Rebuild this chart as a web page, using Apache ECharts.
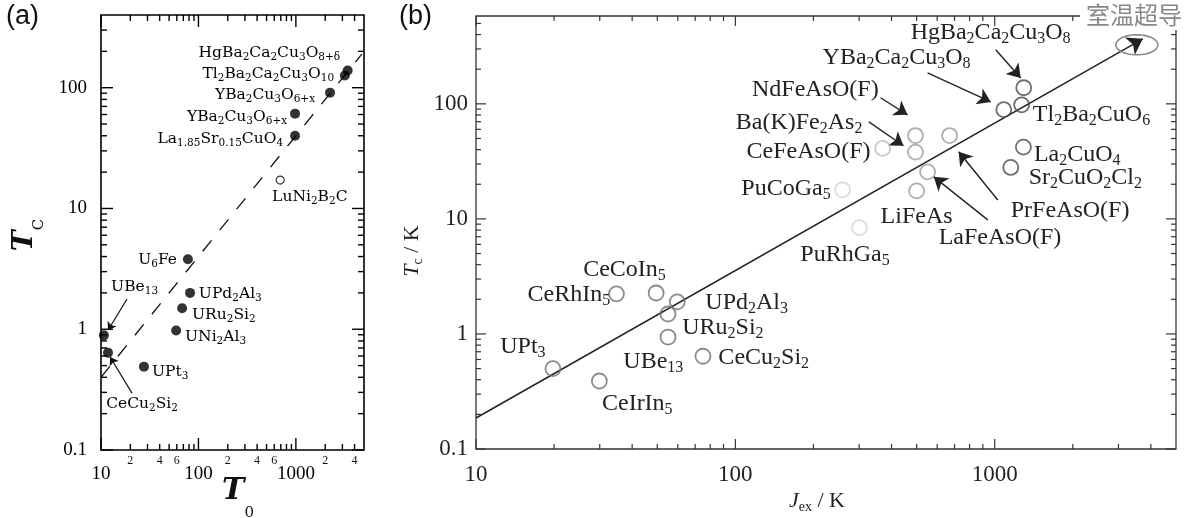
<!DOCTYPE html>
<html><head><meta charset="utf-8">
<script src="https://cdn.jsdelivr.net/npm/echarts@6/dist/echarts.min.js"></script>
<style>html,body{margin:0;padding:0;background:#fff}#c{width:1190px;height:518px}</style>
</head><body><div id="c"></div>
<script>
// ================= DATA: panel (a) =================
const aSolidNames = ['HgBa2Ca2Cu3O8+δ','Tl2Ba2Ca2Cu3O10','YBa2Cu3O6+x','YBa2Cu3O6+x','La1.85Sr0.15CuO4','U6Fe','UPd2Al3','URu2Si2','UNi2Al3','UPt3','UBe13','CeCu2Si2'];
const aSolidT0 = [3400, 3180, 2240, 980, 980, 78, 82, 68, 59, 27.6, 10.7, 11.8];
const aSolidTc = [139, 126, 91, 61, 40, 3.8, 2.0, 1.49, 0.975, 0.49, 0.89, 0.64];
const aOpenNames = ['LuNi2B2C'];
const aOpenT0 = [690];
const aOpenTc = [17.2];
const aFitT0 = [10, 4750];
const aFitTc = [0.4, 190];
const aXMajorTicks = [10, 100, 1000];
const aXMinorTicks = [20,30,40,50,60,70,80,90,200,300,400,500,600,700,800,900,2000,3000,4000];
const aXMinorLabelValues = [20, 40, 60, 200, 400, 600, 2000, 4000];
const aXMinorLabelTexts = ['2','4','6','2','4','6','2','4'];
const aYMajorTicks = [0.1, 1, 10, 100];
const aYMinorTicks = [0.2,0.3,0.4,0.5,0.6,0.7,0.8,0.9,2,3,4,5,6,7,8,9,20,30,40,50,60,70,80,90,200,300];
const aTickLabels = {'10':'10','100':'100','1000':'1000','0.1':'0.1','1':'1'};

// ================= DATA: panel (b) =================
const bCuprateNames = ['HgBa2Ca2Cu3O8','Tl2Ba2CuO6','YBa2Ca2Cu3O8','La2CuO4','Sr2CuO2Cl2'];
const bCuprateJex = [1294, 1270, 1084, 1290, 1153];
const bCuprateTc = [138, 98, 89, 42, 28];
const bIronNames = ['NdFeAsO(F)','PrFeAsO(F)','Ba(K)Fe2As2','LaFeAsO(F)','LiFeAs'];
const bIronJex = [495, 670, 495, 551, 500];
const bIronTc = [53, 53, 38, 25.6, 17.5];
const bCeFeNames = ['CeFeAsO(F)'];
const bCeFeJex = [370];
const bCeFeTc = [41];
const bPuNames = ['PuCoGa5','PuRhGa5'];
const bPuJex = [259, 301];
const bPuTc = [17.9, 8.4];
const bHeavyNames = ['CeCoIn5','CeRhIn5','UPd2Al3','URu2Si2','UBe13','CeCu2Si2','UPt3','CeIrIn5'];
const bHeavyJex = [49.5, 34.8, 59.7, 55, 55, 75, 19.8, 29.9];
const bHeavyTc = [2.27, 2.23, 1.9, 1.49, 0.94, 0.64, 0.50, 0.39];
const bFitJex = [10, 3725];
const bFitTc = [0.186, 367];
const bRoomJex = [3532];
const bRoomTc = [326];
const bRoomLabel = '室温超导';
const bXMajorTicks = [10, 100, 1000];
const bXMinorTicks = [20,30,40,50,60,70,80,90,200,300,400,500,600,700,800,900,2000,3000,4000];
const bYMajorTicks = [0.1, 1, 10, 100];
const bYMinorTicks = [0.2,0.3,0.4,0.5,0.6,0.7,0.8,0.9,2,3,4,5,6,7,8,9,20,30,40,50,60,70,80,90,200,300,400,500];

// ================= LAYOUT (annotation anchors, in data space) =================
const aLabels = [
  {t:'HgBa_2Ca_2Cu_3O_{8+δ}', x:2845, y:193, a:'right'},
  {t:'Tl_2Ba_2Ca_2Cu_3O_{10}', x:2466, y:130, a:'right'},
  {t:'YBa_2Cu_3O_{6+x}', x:1574, y:86.9, a:'right'},
  {t:'YBa_2Cu_3O_{6+x}', x:813, y:57.1, a:'right'},
  {t:'La_{1.85}Sr_{0.15}CuO_4', x:739, y:37.5, a:'right'},
  {t:'LuNi_2B_2C', x:570, y:12.4, a:'left'},
  {t:'U_6Fe', x:60.3, y:3.74, a:'right'},
  {t:'UPd_2Al_3', x:101, y:1.95, a:'left'},
  {t:'URu_2Si_2', x:86, y:1.31, a:'left'},
  {t:'UNi_2Al_3', x:72.8, y:0.861, a:'left'},
  {t:'UPt_3', x:33.4, y:0.443, a:'left'},
  {t:'UBe_{13}', x:12.7, y:2.23, a:'left'},
  {t:'CeCu_2Si_2', x:11.3, y:0.240, a:'left'}
];
const aArrows = [
  [[18.5, 1.78], [11.8, 0.98]],
  [[20.8, 0.296], [12.4, 0.589]]
];
const bLabels = [
  {t:'HgBa_2Ca_2Cu_3O_8', x:474, y:414, a:'left'},
  {t:'YBa_2Ca_2Cu_3O_8', x:217, y:251, a:'left'},
  {t:'NdFeAsO(F)', x:357, y:132, a:'right'},
  {t:'Ba(K)Fe_2As_2', x:309, y:68.4, a:'right'},
  {t:'CeFeAsO(F)', x:332, y:38.3, a:'right'},
  {t:'PuCoGa_5', x:233, y:18.2, a:'right'},
  {t:'LiFeAs', x:363, y:10.4, a:'left'},
  {t:'LaFeAsO(F)', x:608, y:6.84, a:'left'},
  {t:'PrFeAsO(F)', x:1153, y:11.7, a:'left'},
  {t:'Tl_2Ba_2CuO_6', x:1403, y:80.2, a:'left'},
  {t:'La_2CuO_4', x:1416, y:36, a:'left'},
  {t:'Sr_2CuO_2Cl_2', x:1352, y:22.7, a:'left'},
  {t:'PuRhGa_5', x:178, y:4.86, a:'left'},
  {t:'CeCoIn_5', x:25.9, y:3.6, a:'left'},
  {t:'CeRhIn_5', x:32.9, y:2.18, a:'right'},
  {t:'UPd_2Al_3', x:76.6, y:1.86, a:'left'},
  {t:'URu_2Si_2', x:62.4, y:1.13, a:'left'},
  {t:'UBe_{13}', x:37, y:0.571, a:'left'},
  {t:'CeCu_2Si_2', x:86, y:0.618, a:'left'},
  {t:'UPt_3', x:12.4, y:0.771, a:'left'},
  {t:'CeIrIn_5', x:30.6, y:0.246, a:'left'}
];
const bArrows = [
  [[1009, 295], [1259, 168]],
  [[551, 186], [966, 104]],
  [[363, 113], [461, 80.2]],
  [[327, 69.7], [445, 43.2]],
  [[1028, 14.6], [726, 38.3]],
  [[940, 9.8], [582, 23.2]]
];

// ================= helpers =================
function richText(s) {
  let out = '', buf = '';
  for (let i = 0; i < s.length; i++) {
    const c = s[i];
    if (c === '_') {
      if (buf) { out += '{n|' + buf + '}'; buf = ''; }
      let sub = '';
      if (s[i + 1] === '{') { const j = s.indexOf('}', i + 2); sub = s.slice(i + 2, j); i = j; }
      else { let j = i + 1; while (j < s.length && /[0-9]/.test(s[j])) j++; sub = s.slice(i + 1, j); i = j - 1; }
      out += '{s|' + sub + '}';
    } else buf += c;
  }
  if (buf) out += '{n|' + buf + '}';
  return out;
}
function zip(xs, ys) { return xs.map((x, i) => [x, ys[i]]); }
function fmtTick(v) {
  const l = Math.log10(v);
  if (Math.abs(l - Math.round(l)) > 1e-6) return '';
  const key = String(+v.toPrecision(6));
  return aTickLabels[key] !== undefined ? aTickLabels[key] : key;
}

const richA = {
  n: {fontFamily: 'DejaVu Serif', fontSize: 15.5, lineHeight: 20, fill: '#000'},
  s: {fontFamily: 'DejaVu Serif', fontSize: 10.5, verticalAlign: 'bottom', fill: '#000'}
};
const richB = {
  n: {fontFamily: 'Liberation Serif', fontSize: 24, lineHeight: 27, fill: '#222'},
  s: {fontFamily: 'Liberation Serif', fontSize: 16, verticalAlign: 'bottom', fill: '#222'}
};

function labelSeries(layout, idx, rich) {
  return {
    type: 'custom', xAxisIndex: idx, yAxisIndex: idx, silent: true, z: 10,
    data: layout.map(l => [l.x, l.y]),
    renderItem: (params, api) => {
      const l = layout[params.dataIndex];
      const p = api.coord([api.value(0), api.value(1)]);
      return {type: 'text', x: p[0], y: p[1],
        style: {text: richText(l.t), rich: rich, align: l.a, verticalAlign: 'middle'}};
    }
  };
}

function buildTicks(xMaj, xMin, yMaj, yMin, minorLabelVals, minorLabelTexts) {
  const t = [];
  xMaj.forEach(v => t.push({axis: 'x', v, major: true}));
  xMin.forEach(v => {
    const k = minorLabelVals ? minorLabelVals.indexOf(v) : -1;
    t.push({axis: 'x', v, major: false, label: k >= 0 ? minorLabelTexts[k] : ''});
  });
  yMaj.forEach(v => t.push({axis: 'y', v, major: true}));
  yMin.forEach(v => t.push({axis: 'y', v, major: false}));
  return t;
}
function tickSeries(ticks, idx, xRef, yRef, majLen, minLen, color, lw) {
  return {
    type: 'custom', xAxisIndex: idx, yAxisIndex: idx, silent: true, z: 5,
    data: ticks.map(t => t.axis === 'x' ? [t.v, yRef] : [xRef, t.v]),
    renderItem: (params, api) => {
      const t = ticks[params.dataIndex];
      const cs = params.coordSys;
      const len = t.major ? majLen : minLen;
      const st = {stroke: color, lineWidth: lw};
      const ch = [];
      if (t.axis === 'x') {
        const x = api.coord([t.v, yRef])[0];
        const yb = cs.y + cs.height, yt = cs.y;
        ch.push({type: 'line', shape: {x1: x, y1: yb, x2: x, y2: yb - len}, style: st});
        ch.push({type: 'line', shape: {x1: x, y1: yt, x2: x, y2: yt + len}, style: st});
        if (t.label) ch.push({type: 'text', x: x, y: yb + 5,
          style: {text: t.label, font: '12px "Liberation Serif"', fill: '#111', align: 'center', verticalAlign: 'top'}});
      } else {
        const y = api.coord([xRef, t.v])[1];
        const xl = cs.x, xr = cs.x + cs.width;
        ch.push({type: 'line', shape: {x1: xl, y1: y, x2: xl + len, y2: y}, style: st});
        ch.push({type: 'line', shape: {x1: xr, y1: y, x2: xr - len, y2: y}, style: st});
      }
      return {type: 'group', children: ch};
    }
  };
}

const aTicks = buildTicks(aXMajorTicks, aXMinorTicks, aYMajorTicks, aYMinorTicks, aXMinorLabelValues, aXMinorLabelTexts);
const bTicks = buildTicks(bXMajorTicks, bXMinorTicks, bYMajorTicks, bYMinorTicks, null, null);

function logAxis(idx, min, max, pos, labelStyle) {
  return {type: 'log', logBase: 10, gridIndex: idx, min, max, position: pos,
    axisLine: {show: false}, axisTick: {show: false}, splitLine: {show: false}, minorTick: {show: false},
    axisLabel: Object.assign({formatter: fmtTick, showMinLabel: true, showMaxLabel: false}, labelStyle)};
}

const chart = echarts.init(document.getElementById('c'), null, {renderer: 'canvas'});
chart.setOption({
  animation: false,
  backgroundColor: '#fff',
  grid: [
    {left: 101, top: 15, width: 263, height: 435, show: true, borderColor: '#000', borderWidth: 1.6, backgroundColor: 'transparent'},
    {left: 476, top: 16, width: 700, height: 433, show: true, borderColor: '#333', borderWidth: 1.3, backgroundColor: 'transparent'}
  ],
  xAxis: [
    logAxis(0, 10, 5000, 'bottom', {fontFamily: 'Liberation Serif', fontSize: 19, color: '#000', margin: 15}),
    logAxis(1, 10, 5000, 'bottom', {fontFamily: 'Liberation Serif', fontSize: 23, color: '#222', margin: 14})
  ],
  yAxis: [
    logAxis(0, 0.1, 400, 'left', {fontFamily: 'Liberation Serif', fontSize: 19, color: '#000', margin: 14}),
    logAxis(1, 0.1, 580, 'left', {fontFamily: 'Liberation Serif', fontSize: 23, color: '#222', margin: 8})
  ],
  graphic: [
    {type: 'text', left: 6, top: 3, style: {text: '(a)', font: '27px "Liberation Sans"', fill: '#111'}},
    {type: 'text', left: 399, top: 3, style: {text: '(b)', font: '27px "Liberation Sans"', fill: '#111'}},
    {type: 'text', right: 4, top: 0, z: 100, style: {text: bRoomLabel, font: '24px "Noto Sans CJK SC"', fill: '#888', backgroundColor: '#fff', padding: [3, 4, 3, 6]}},
    {type: 'text', x: 238, y: 491, style: {text: '{t|T}{s|0}', align: 'center', verticalAlign: 'middle',
      rich: {t: {font: 'italic bold 30px "DejaVu Serif"', lineHeight: 59, fill: '#111'}, s: {font: '15px "DejaVu Serif"', verticalAlign: 'bottom', fill: '#111'}}}},
    {type: 'text', x: 25, y: 235, rotation: Math.PI / 2, style: {text: '{t|T}{s|C}', align: 'center', verticalAlign: 'middle',
      rich: {t: {font: 'italic bold 28px "DejaVu Serif"', lineHeight: 43, fill: '#111'}, s: {font: '15px "DejaVu Serif"', verticalAlign: 'bottom', fill: '#111'}}}},
    {type: 'text', x: 412, y: 251, rotation: Math.PI / 2, style: {text: '{i|T}{s|c}{n| / K}', align: 'center', verticalAlign: 'middle',
      rich: {i: {font: 'italic 22px "Liberation Serif"', lineHeight: 26, fill: '#222'}, n: {font: '22px "Liberation Serif"', lineHeight: 26, fill: '#222'}, s: {font: '14px "Liberation Serif"', verticalAlign: 'bottom', fill: '#222'}}}},
    {type: 'text', x: 817, y: 501, style: {text: '{i|J}{s|ex}{n| / K}', align: 'center', verticalAlign: 'middle',
      rich: {i: {font: 'italic 22px "Liberation Serif"', lineHeight: 26, fill: '#222'}, n: {font: '22px "Liberation Serif"', lineHeight: 26, fill: '#222'}, s: {font: '14px "Liberation Serif"', verticalAlign: 'bottom', fill: '#222'}}}}
  ],
  series: [
    tickSeries(aTicks, 0, 10, 0.1, 12, 6, '#000', 1.4),
    tickSeries(bTicks, 1, 10, 0.1, 10, 5, '#333', 1.2),
    {type: 'line', xAxisIndex: 0, yAxisIndex: 0, data: zip(aFitT0, aFitTc), showSymbol: false, silent: true,
      lineStyle: {color: '#111', width: 1.3, type: [14, 13]}},
    {type: 'scatter', name: 'a-solid', xAxisIndex: 0, yAxisIndex: 0, data: zip(aSolidT0, aSolidTc), symbol: 'circle', symbolSize: 10,
      itemStyle: {color: '#000'}, z: 6},
    {type: 'scatter', name: 'a-open', xAxisIndex: 0, yAxisIndex: 0, data: zip(aOpenT0, aOpenTc), symbol: 'circle', symbolSize: 8,
      itemStyle: {color: '#fff', borderColor: '#000', borderWidth: 1.2}, z: 6},
    {type: 'lines', coordinateSystem: 'cartesian2d', xAxisIndex: 0, yAxisIndex: 0, silent: true,
      data: aArrows.map(c => ({coords: c})), symbol: ['none', 'arrow'], symbolSize: 8,
      lineStyle: {color: '#111', width: 1.2, opacity: 1}},
    labelSeries(aLabels, 0, richA),
    // panel b
    {type: 'lines', coordinateSystem: 'cartesian2d', xAxisIndex: 1, yAxisIndex: 1, silent: true,
      data: [{coords: zip(bFitJex, bFitTc)}], symbol: ['none', 'arrow'], symbolSize: 15,
      lineStyle: {color: '#222', width: 1.5, opacity: 1}},
    {type: 'lines', coordinateSystem: 'cartesian2d', xAxisIndex: 1, yAxisIndex: 1, silent: true,
      data: bArrows.map(c => ({coords: c})), symbol: ['none', 'arrow'], symbolSize: 13,
      lineStyle: {color: '#222', width: 1.4, opacity: 1}},
    {type: 'custom', xAxisIndex: 1, yAxisIndex: 1, silent: true, data: zip(bRoomJex, bRoomTc),
      renderItem: (params, api) => {
        const c = api.coord([api.value(0), api.value(1)]);
        const pts = [];
        for (let k = 0; k < 60; k++) { const a = k / 60 * Math.PI * 2; pts.push([c[0] + 21 * Math.cos(a), c[1] + 10 * Math.sin(a)]); }
        return {type: 'polygon', shape: {points: pts}, style: {fill: 'none', stroke: '#8a8a8a', lineWidth: 1.6}};
      }},
    {type: 'scatter', name: 'cuprates', xAxisIndex: 1, yAxisIndex: 1, data: zip(bCuprateJex, bCuprateTc), symbol: 'circle', symbolSize: 15,
      itemStyle: {color: 'rgba(0,0,0,0)', borderColor: '#4a4a4a', borderWidth: 1.8}, z: 6},
    {type: 'scatter', name: 'iron', xAxisIndex: 1, yAxisIndex: 1, data: zip(bIronJex, bIronTc), symbol: 'circle', symbolSize: 15,
      itemStyle: {color: 'rgba(0,0,0,0)', borderColor: '#9a9a9a', borderWidth: 1.8}, z: 6},
    {type: 'scatter', name: 'CeFe', xAxisIndex: 1, yAxisIndex: 1, data: zip(bCeFeJex, bCeFeTc), symbol: 'circle', symbolSize: 15,
      itemStyle: {color: 'rgba(0,0,0,0)', borderColor: '#bdbdbd', borderWidth: 1.8}, z: 6},
    {type: 'scatter', name: 'Pu', xAxisIndex: 1, yAxisIndex: 1, data: zip(bPuJex, bPuTc), symbol: 'circle', symbolSize: 15,
      itemStyle: {color: 'rgba(0,0,0,0)', borderColor: '#d2d2d2', borderWidth: 1.8}, z: 6},
    {type: 'scatter', name: 'heavy', xAxisIndex: 1, yAxisIndex: 1, data: zip(bHeavyJex, bHeavyTc), symbol: 'circle', symbolSize: 15,
      itemStyle: {color: 'rgba(0,0,0,0)', borderColor: '#6e6e6e', borderWidth: 1.8}, z: 6},
    labelSeries(bLabels, 1, richB)
  ]
});
</script></body></html>
